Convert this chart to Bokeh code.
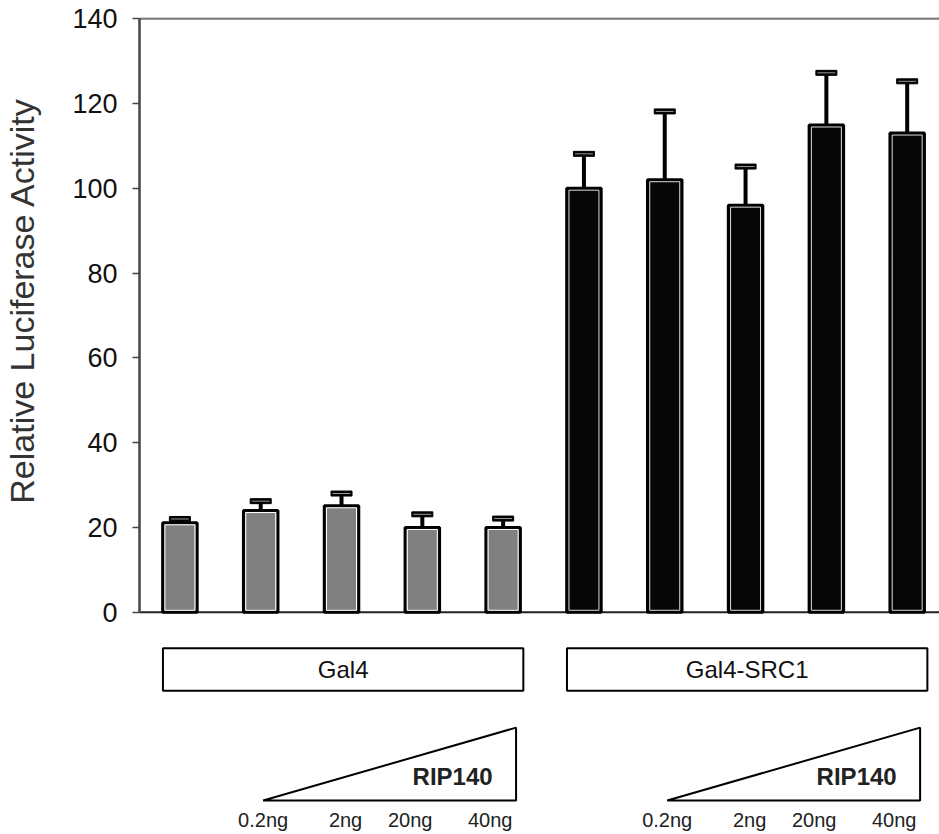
import math
from bokeh.plotting import figure
from bokeh.layouts import row
from bokeh.models import Range1d, FixedTicker
from bokeh.core.properties import value
from bokeh.embed import file_html
from bokeh.resources import INLINE

# ---- data ----
groups = ["Gal4", "Gal4-SRC1"]
doses = ["0.2ng", "2ng", "20ng", "40ng"]
gal4_values = [21.1, 24.0, 25.1, 20.0, 20.0]
gal4_errors = [0.9, 2.2, 2.9, 3.1, 2.1]
src1_values = [100.0, 102.0, 96.0, 114.9, 113.0]
src1_errors = [8.1, 16.1, 9.1, 12.3, 12.2]
y_ticks = [0, 20, 40, 60, 80, 100, 120, 140]
y_label = "Relative Luciferase Activity"
ramp_label = "RIP140"

FONT = "Liberation Sans"
LABEL_W = 60
H = 834

yr = Range1d(-52.4, 140.25)

# narrow strip holding the y-axis title
lab = figure(width=LABEL_W, height=H, output_backend="svg", toolbar_location=None,
             x_range=Range1d(0, LABEL_W), y_range=yr, x_axis_location=None,
             y_axis_location=None, min_border_left=0, min_border_right=0,
             min_border_top=17, min_border_bottom=0)
lab.title.visible = False
lab.xgrid.visible = False
lab.ygrid.visible = False
lab.outline_line_color = None
lab.text(x=[21], y=[(y_ticks[0] + y_ticks[-1]) / 2 + 3.5], text=[y_label], angle=math.pi / 2,
         text_font=value(FONT), text_font_size="34px", text_align="center",
         text_baseline="middle", text_color="#333333")

p = figure(width=939 - LABEL_W, height=H, output_backend="svg", toolbar_location=None,
           x_range=Range1d(-0.5, 9.4), y_range=yr,
           x_axis_location=None, min_border_left=139 - LABEL_W, min_border_right=0,
           min_border_top=17, min_border_bottom=0)
p.title.visible = False
p.xgrid.visible = False
p.ygrid.visible = False
p.outline_line_color = None

ax = p.yaxis[0]
ax.ticker = FixedTicker(ticks=y_ticks)
ax.bounds = (0, 140)
ax.axis_line_color = "#444444"
ax.axis_line_width = 2.5
ax.major_tick_line_color = "#444444"
ax.major_tick_line_width = 1.5
ax.major_tick_out = 7
ax.major_tick_in = 0
ax.minor_tick_line_color = None
ax.major_label_text_font = FONT
ax.major_label_text_font_size = "27px"
ax.major_label_text_color = "#111111"
ax.major_label_standoff = 15

# frame lines: top border and baseline
p.segment(x0=[-0.5], y0=[140], x1=[9.4], y1=[140], line_color="#7a7a7a", line_width=2.5)
p.segment(x0=[-0.52], y0=[0], x1=[9.4], y1=[0], line_color="#222222", line_width=2)

bw = 0.427
series = [(0, gal4_values, gal4_errors, "#808080", "white"),
          (5, src1_values, src1_errors, "#060606", "#dddddd")]
for start, vals, errs, fill, inner in series:
    xs = [start + i for i in range(len(vals))]
    tops = [v + e for v, e in zip(vals, errs)]
    # error stems
    p.segment(x0=xs, y0=vals, x1=xs, y1=tops, line_color="black", line_width=4)
    # error caps
    p.rect(x=xs, y=tops, width=0.26, height=5, height_units="screen",
           fill_color="black", line_color="black", line_width=1)
    p.segment(x0=[x - 0.11 for x in xs], y0=tops, x1=[x + 0.11 for x in xs], y1=tops,
              line_color="#9a9a9a", line_width=1)
    # bars
    p.vbar(x=xs, top=vals, bottom=0, width=bw, fill_color=fill,
           line_color="black", line_width=3)
    p.quad(left=[x - bw / 2 + 0.028 for x in xs], right=[x + bw / 2 - 0.028 for x in xs],
           top=[v - 0.47 for v in vals], bottom=[0.47] * len(xs),
           fill_color=None, line_color=inner, line_width=1)

# group boxes and dose ramps
dose_offsets = [1.03, 2.05, 2.85, 3.84]
for gi, name in enumerate(groups):
    g0 = gi * 5
    p.quad(left=[g0 - 0.21], right=[g0 + 4.25], top=[-8.5], bottom=[-18.5],
           fill_color="white", line_color="black", line_width=2)
    p.text(x=[g0 + 2.02], y=[-13.5], text=[name], text_font=value(FONT),
           text_font_size="24px", text_align="center", text_baseline="middle",
           text_color="#111111")
    p.patch(x=[g0 + 1.03, g0 + 4.16, g0 + 4.16], y=[-44.4, -27.2, -44.4],
            fill_color="white", line_color="black", line_width=2)
    p.text(x=[g0 + 3.87], y=[-38.8], text=[ramp_label], text_font=value(FONT),
           text_font_size="24px", text_font_style="bold", text_align="right",
           text_baseline="middle", text_color="#222222")
    p.text(x=[g0 + o for o in dose_offsets], y=[-49.0] * len(doses), text=doses,
           text_font=value(FONT), text_font_size="20px", text_align="center",
           text_baseline="middle", text_color="#222222")

layout = row(lab, p, spacing=0)
open("out.html", "w").write(file_html(layout, INLINE))
